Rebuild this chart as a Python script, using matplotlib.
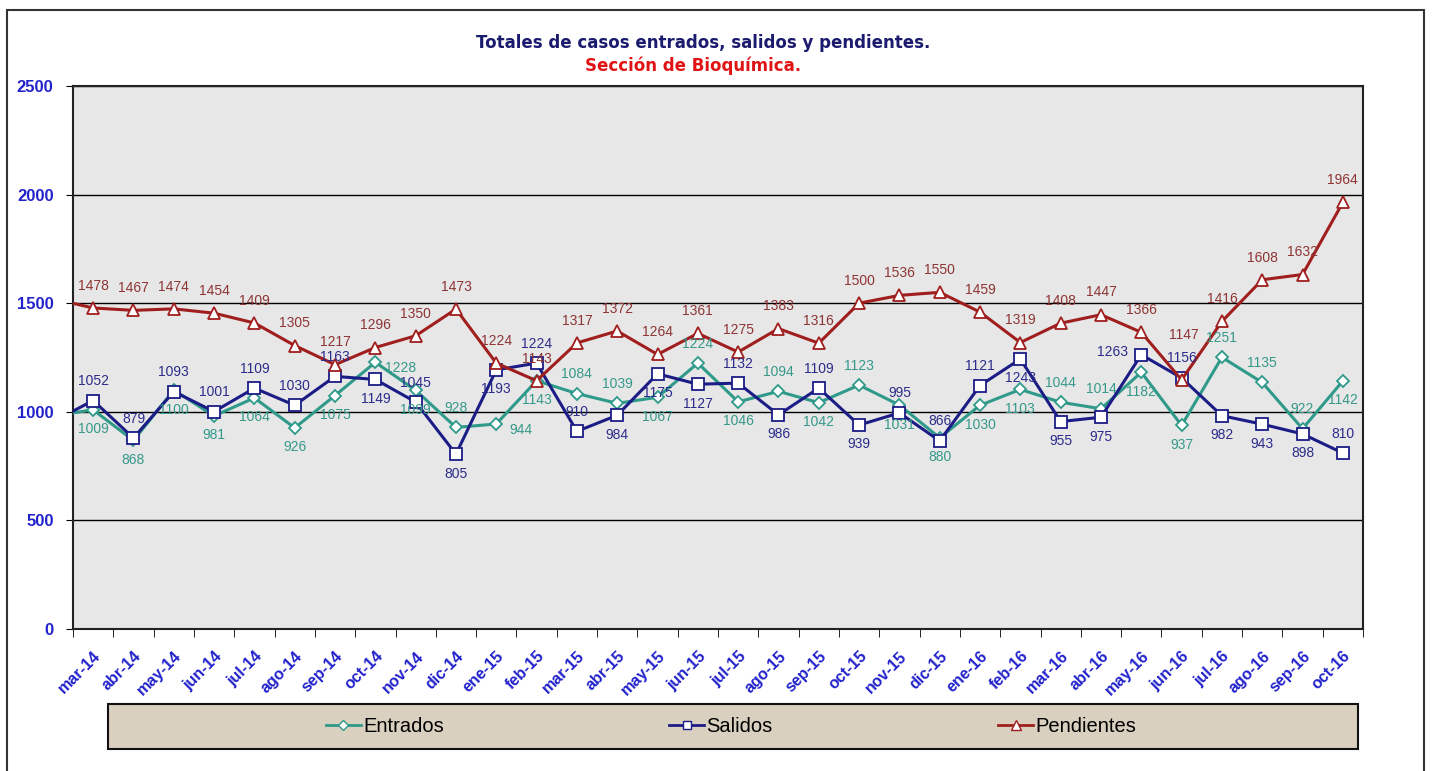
import matplotlib
matplotlib.use("Agg")
from matplotlib import pyplot as plt
from matplotlib.patches import Rectangle
from matplotlib.lines import Line2D

plt.rcParams['font.family'] = ['Liberation Sans', 'DejaVu Sans']

# months shown on the axis; the first value (feb-14) only enters from the left edge
months = ["mar-14", "abr-14", "may-14", "jun-14", "jul-14", "ago-14", "sep-14", "oct-14",
          "nov-14", "dic-14", "ene-15", "feb-15", "mar-15", "abr-15", "may-15", "jun-15",
          "jul-15", "ago-15", "sep-15", "oct-15", "nov-15", "dic-15", "ene-16", "feb-16",
          "mar-16", "abr-16", "may-16", "jun-16", "jul-16", "ago-16", "sep-16", "oct-16"]

entrados_prev = 981
salidos_prev = 954
pendientes_prev = 1521

entrados = [1009, 868, 1100, 981, 1064, 926, 1075, 1228, 1099, 928, 944, 1143, 1084, 1039,
            1067, 1224, 1046, 1094, 1042, 1123, 1031, 880, 1030, 1103, 1044, 1014, 1182,
            937, 1251, 1135, 922, 1142]
salidos = [1052, 879, 1093, 1001, 1109, 1030, 1163, 1149, 1045, 805, 1193, 1224, 910, 984,
           1175, 1127, 1132, 986, 1109, 939, 995, 866, 1121, 1243, 955, 975, 1263, 1156,
           982, 943, 898, 810]
pendientes = [1478, 1467, 1474, 1454, 1409, 1305, 1217, 1296, 1350, 1473, 1224, 1143, 1317,
              1372, 1264, 1361, 1275, 1383, 1316, 1500, 1536, 1550, 1459, 1319, 1408, 1447,
              1366, 1147, 1416, 1608, 1632, 1964]

# where each data label sits: a=above, A=high above, b=below, r=right, l=left
pos_entrados = ["b", "b", "b", "b", "b", "b", "b", "r", "b", "a",
                "r", "b", "a", "a", "b", "a", "b", "a", "b", "a",
                "b", "b", "b", "b", "a", "a", "b", "b", "a", "a", "a", "b"]
pos_salidos = ["a", "a", "a", "a", "a", "a", "a", "b", "a", "b",
               "b", "a", "a", "b", "b", "b", "a", "b", "a", "b",
               "a", "a", "a", "b", "b", "b", "l", "a", "b", "b", "b", "a"]
pos_pendientes = ["a"] * 27 + ["A"] + ["a"] * 4

W, H = 1434, 771
fig = plt.figure(figsize=(W / 100, H / 100), dpi=100)
fig.patch.set_facecolor("white")

# outer frame
fig.add_artist(Rectangle((7 / W, 1 - 775 / H), 1417 / W, 765 / H, transform=fig.transFigure,
                         facecolor="none", edgecolor="#333333", lw=1.5, clip_on=False))

ax = fig.add_axes([73 / W, 1 - 629 / H, 1290 / W, 543 / H])
ax.set_facecolor("#e7e7e7")

x_all = list(range(-1, len(months)))
series = [
    ("Entrados", [entrados_prev] + entrados, "#2f9a8a", "D", 6, "#35998a", pos_entrados, 14),
    ("Salidos", [salidos_prev] + salidos, "#1c1c86", "s", 8, "#2c2c8c", pos_salidos, 14),
    ("Pendientes", [pendientes_prev] + pendientes, "#a01e1e", "^", 9, "#8e3434", pos_pendientes, 16),
]

handles = []
for name, vals, col, mk, ms, lcol, pos, off in series:
    line, = ax.plot(x_all, vals, color=col, lw=2.2, marker=mk, ms=ms,
                    mfc="white", mec=col, mew=1.3, zorder=3)
    handles.append(line)
    for i, v in enumerate(vals[1:]):
        p = pos[i]
        if p == "a":
            dx, dy = 0, off
        elif p == "A":
            dx, dy = 2, off + 16
        elif p == "b":
            dx, dy = 0, -off
        elif p == "r":
            dx, dy = 18, -4
        else:
            dx, dy = -21, 2
        ax.annotate(str(v), (i, v), xytext=(dx, dy), textcoords="offset points",
                    ha="center", va="center", fontsize=10, color=lcol, zorder=5)

ax.set_xlim(-0.5, len(months) - 0.5)
ax.set_ylim(0, 2500)
ax.set_yticks([0, 500, 1000, 1500, 2000, 2500])
ax.yaxis.grid(True, color="black", lw=1)
ax.set_axisbelow(True)

ax.set_xticks(range(len(months)))
ax.set_xticklabels(months, rotation=45, ha="right", va="top", rotation_mode="anchor",
                   fontsize=11.5, fontweight="bold", color="#2222cc")
ax.set_xticks([k - 0.5 for k in range(len(months) + 1)], minor=True)
ax.tick_params(axis="x", which="major", length=0, pad=14)
ax.tick_params(axis="x", which="minor", length=6, direction="out", color="black")
ax.tick_params(axis="y", length=5, direction="out", pad=9)
for t in ax.get_yticklabels():
    t.set_fontsize(12)
    t.set_fontweight("bold")
    t.set_color("#2222cc")

for s in ax.spines.values():
    s.set_color("#222222")
    s.set_linewidth(1.5)

fig.text(703 / W, 1 - 43 / H, "Totales de casos entrados, salidos y pendientes.",
         ha="center", va="center", fontsize=12, fontweight="bold", color="#1a1a6e",
         family="DejaVu Sans")
fig.text(693 / W, 1 - 66 / H, "Sección de Bioquímica.", ha="center", va="center",
         fontsize=12, fontweight="bold", color="#e01414", family="DejaVu Sans")

# legend box
fig.add_artist(Rectangle((108 / W, 1 - 749 / H), 1250 / W, 45 / H, transform=fig.transFigure,
                         facecolor="#d9d0c0", edgecolor="#111111", lw=1.5, zorder=1))
leg_handles = [Line2D([], [], color=h.get_color(), lw=2, marker=h.get_marker(),
                      ms=h.get_markersize() * 0.8, mfc="white", mec=h.get_color())
               for h in handles]
fig.legend(leg_handles, [s[0] for s in series], loc="center",
           bbox_to_anchor=(731 / W, 1 - 726.5 / H), ncol=3, frameon=False, fontsize=14.5,
           columnspacing=11.2, handlelength=1.75, handletextpad=0.1)

fig.savefig("out.png", dpi=100)
